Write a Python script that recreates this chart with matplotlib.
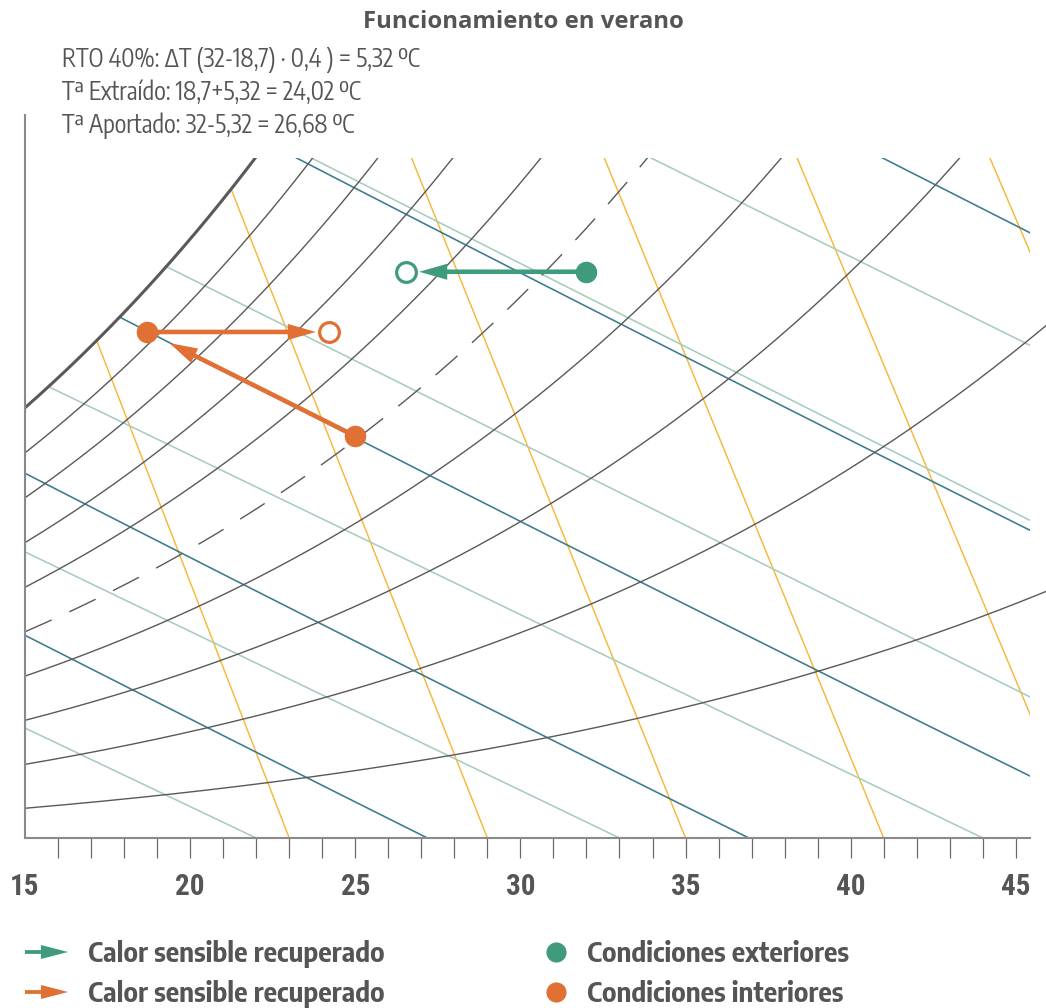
import numpy as np
import matplotlib
matplotlib.use("Agg")
import matplotlib.pyplot as plt
from matplotlib.patches import Polygon, Rectangle, FancyArrowPatch, ArrowStyle

# ---------------- data ----------------
title = "Funcionamiento en verano"
notes = ["RTO 40%: ΔT (32-18,7) · 0,4 ) = 5,32 ºC",
         "Tª Extraído: 18,7+5,32 = 24,02 ºC",
         "Tª Aportado: 32-5,32 = 26,68 ºC"]
x_tick_values = [15, 20, 25, 30, 35, 40, 45]
x_minor_ticks = list(range(16, 46))

rh_levels = [10, 20, 30, 40, 50, 60, 70, 80, 90, 100]      # relative humidity, %
rh_dashed = 50
enthalpy_levels = [28.2, 38.0, 50.4, 65.6, 84.0]            # kJ/kg (blue lines)
volume_T0 = [23, 29, 35, 41, 47, 53]                        # yellow lines, °C at bottom edge
volume_slope = [0.49, 0.50, 0.51, 0.52, 0.53, 0.54]         # °C per g/kg
wetbulb_T0 = [22, 33, 44, 54, 64.5, 75.6]                   # green lines, °C at bottom edge
wetbulb_slope = [2.66, 2.63, 2.62, 2.54, 2.51, 2.56]        # °C per g/kg

# states (dry bulb °C, humidity ratio g/kg)
ext_T, ext_w = 32.0, 13.88     # condiciones exteriores
sup_T, sup_w = 26.55, 13.88    # aire aportado
int_T, int_w = 25.0, 9.95      # condiciones interiores
ret_T, ret_w = 18.7, 12.44     # extraído
exh_T, exh_w = 24.2, 12.44     # expulsado

legend_arrow_labels = ["Calor sensible recuperado", "Calor sensible recuperado"]
legend_dot_labels = ["Condiciones exteriores", "Condiciones interiores"]

# ---------------- style ----------------
P_ATM = 101.325
T_MIN, T_MAX = 15.0, 45.43
W_BOT, W_TOP, W_CLIP = 0.335, 17.63, 16.6

C_RH = "#595959"
C_VOL = "#F7B838"
C_ENT = "#3A7A8E"
C_WB = "#A6CDBE"
C_GREEN = "#3F9B7B"
C_ORANGE = "#E07033"
C_TEXT = "#555555"

F_REG = ["Encode Sans Condensed", "Roboto Condensed", "DejaVu Sans"]
F_BOLD = ["Encode Sans Semi Condensed", "Roboto Condensed", "DejaVu Sans"]
F_TICK = ["Roboto Condensed", "DejaVu Sans"]
F_TITLE = ["Open Sans", "DejaVu Sans"]


def pws(T):
    return 0.61094 * np.exp(17.625 * T / (T + 243.04))


def w_from_rh(T, rh):
    pv = rh / 100.0 * pws(T)
    return 622.0 * pv / (P_ATM - pv)


fig = plt.figure(figsize=(10.46, 10.08), dpi=100)
renderer = fig.canvas.get_renderer()


def fit(t, target_px):
    w = t.get_window_extent(renderer).width
    t.set_fontsize(t.get_fontsize() * target_px / w)
    return t.get_fontsize()


ax = fig.add_axes([25 / 1046, (1008 - 838) / 1008, 1005 / 1046, (838 - 115) / 1008])
ax.set_xlim(T_MIN, T_MAX)
ax.set_ylim(W_BOT, W_TOP)
ax.patch.set_alpha(0)

# clip regions
rect_clip = Rectangle((T_MIN - 1, W_BOT - 1), 40, W_CLIP - W_BOT + 1, transform=ax.transData)
Ts = np.linspace(T_MIN, 30, 600)
ws_sat = w_from_rh(Ts, 100)
m = ws_sat <= W_CLIP
Tsat_top = np.interp(W_CLIP, ws_sat, Ts)
verts = list(zip(Ts[m], ws_sat[m])) + [(Tsat_top, W_CLIP), (T_MAX + 2, W_CLIP),
                                        (T_MAX + 2, W_BOT - 1), (T_MIN - 1, W_BOT - 1),
                                        (T_MIN - 1, ws_sat[0])]
poly_clip = Polygon(verts, closed=True, transform=ax.transData)

Tg = np.linspace(T_MIN, T_MAX + 0.5, 500)
wg = np.linspace(W_BOT - 0.5, W_CLIP + 0.5, 200)

# specific volume (yellow)
for T0, k in zip(volume_T0, volume_slope):
    ln, = ax.plot(T0 - k * (wg - W_BOT), wg, color=C_VOL, lw=1.05, zorder=1)
    ln.set_clip_path(poly_clip)

# wet bulb (green)
for T0, k in zip(wetbulb_T0, wetbulb_slope):
    ln, = ax.plot(T0 - k * (wg - W_BOT), wg, color=C_WB, lw=1.15, zorder=1)
    ln.set_clip_path(poly_clip)

# enthalpy (blue)
for h in enthalpy_levels:
    w_h = 1000.0 * (h - 1.006 * Tg) / (2501.0 + 1.86 * Tg)
    ln, = ax.plot(Tg, w_h, color=C_ENT, lw=1.15, zorder=1.2)
    ln.set_clip_path(poly_clip)

# relative humidity curves
for rh in rh_levels:
    w_rh = w_from_rh(Tg, rh)
    if rh == 100:
        ln, = ax.plot(Tg, w_rh, color=C_RH, lw=2.2, zorder=2, solid_capstyle="butt")
    elif rh == rh_dashed:
        ln, = ax.plot(Tg, w_rh, color=C_RH, lw=1.0, zorder=2, dashes=(21, 14))
    else:
        ln, = ax.plot(Tg, w_rh, color=C_RH, lw=1.0, zorder=2)
    ln.set_clip_path(rect_clip)


# arrows
def arrow(p0, p1, color, shrinkB, tw=4.6, hl=28, hw=16):
    ms = 10.0
    px = 1 / 1.389
    st = ArrowStyle.Simple(head_length=hl * px / ms, head_width=hw * px / ms, tail_width=tw * px / ms)
    return FancyArrowPatch(p0, p1, arrowstyle=st, mutation_scale=ms, color=color, lw=0,
                           shrinkA=0, shrinkB=shrinkB, zorder=4)


ax.add_patch(arrow((ext_T, ext_w), (sup_T, sup_w), C_GREEN, 9.2))
ax.add_patch(arrow((int_T, int_w), (ret_T, ret_w), C_ORANGE, 18.0))
ax.add_patch(arrow((ret_T, ret_w), (exh_T, exh_w), C_ORANGE, 9.4))

# state markers
ax.plot([ext_T], [ext_w], "o", ms=15.5, color=C_GREEN, mec="none", zorder=5)
ax.plot([sup_T], [sup_w], "o", ms=14.2, mfc="white", mec=C_GREEN, mew=2.3, zorder=5)
ax.plot([int_T, ret_T], [int_w, ret_w], "o", ms=15.5, color=C_ORANGE, mec="none", zorder=5)
ax.plot([exh_T], [exh_w], "o", ms=14.2, mfc="white", mec=C_ORANGE, mew=2.3, zorder=5)

# axes styling
for s in ["top", "right"]:
    ax.spines[s].set_visible(False)
for s in ["left", "bottom"]:
    ax.spines[s].set_color("#8a8a8a")
    ax.spines[s].set_linewidth(1.5)
ax.set_yticks([])
ax.set_xticks(x_tick_values)
ax.set_xticklabels([str(v) for v in x_tick_values], fontfamily=F_TICK,
                   fontweight="bold", fontsize=21, color=C_TEXT)
ax.set_xticks(x_minor_ticks, minor=True)
ax.tick_params(axis="x", which="both", direction="out", length=14.5, width=0.9,
               color="#6a6a6a", pad=11)
ax.xaxis.get_major_ticks()[0].tick1line.set_visible(False)

# overlay in pixel coordinates for text and legend
lay = fig.add_axes([0, 0, 1, 1], zorder=6)
lay.set_xlim(0, 1046)
lay.set_ylim(1008, 0)
lay.axis("off")

t_title = lay.text(523, 28, title, ha="center", va="baseline", fontsize=16, fontweight="bold",
                   family=F_TITLE, color=C_TEXT)
fit(t_title, 320)
note_objs = [lay.text(62, 67 + 33 * i, line, ha="left", va="baseline", fontsize=16,
                      family=F_REG, color=C_TEXT) for i, line in enumerate(notes)]
fs_note = fit(note_objs[0], 358)
for t in note_objs:
    t.set_fontsize(fs_note)

rows_y = [952, 992]
arrow_txt = []
for y, col, lab in zip(rows_y, [C_GREEN, C_ORANGE], legend_arrow_labels):
    lay.add_patch(arrow((25, y), (68, y), col, 0, tw=3.8, hl=27, hw=14))
    arrow_txt.append(lay.text(88, y - 1, lab, ha="left", va="center_baseline", fontsize=18,
                              fontweight="bold", family=F_BOLD, color=C_TEXT))
fs_leg = fit(arrow_txt[0], 298)
for t in arrow_txt:
    t.set_fontsize(fs_leg)
for y, col, lab in zip(rows_y, [C_GREEN, C_ORANGE], legend_dot_labels):
    lay.plot([556], [y], "o", ms=14.5, color=col, mec="none")
    lay.text(587, y - 1, lab, ha="left", va="center_baseline", fontsize=fs_leg, fontweight="bold",
             family=F_BOLD, color=C_TEXT)

fig.savefig("out.png", dpi=100)
